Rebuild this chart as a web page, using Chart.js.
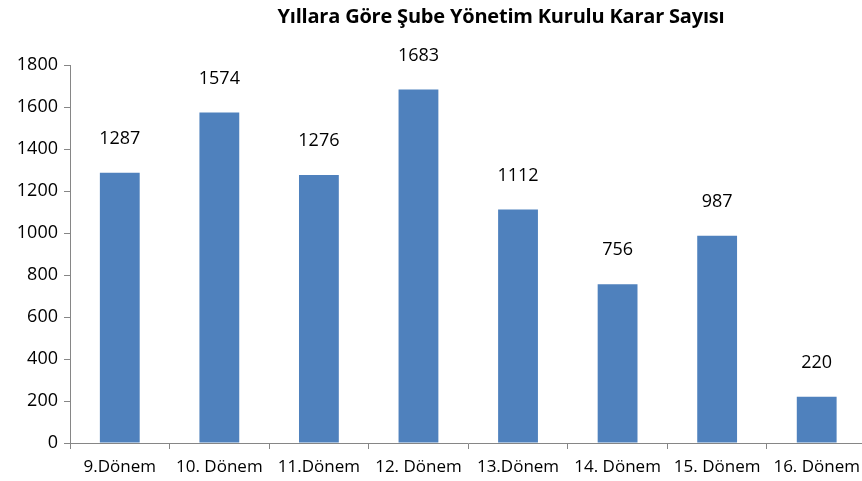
<!DOCTYPE html>
<html>
<head>
<meta charset="utf-8">
<script src="https://cdn.jsdelivr.net/npm/chart.js@4"></script>
<style>
  html, body { margin: 0; padding: 0; background: #fff; overflow: hidden; }
  #wrap { position: relative; width: 868px; height: 481px; }
  #title {
    position: absolute; left: 0; top: 2px; width: 1002px; text-align: center;
    font: bold 20px "Open Sans", sans-serif; color: #000; letter-spacing: -0.2px;
  }
</style>
</head>
<body>
<div id="wrap">
  <div id="title">Yıllara Göre Şube Yönetim Kurulu Karar Sayısı</div>
  <canvas id="chart" width="868" height="481"></canvas>
</div>
<script>
// dönemler ve karar sayıları
const donemler = ['9.Dönem', '10. Dönem', '11.Dönem', '12. Dönem', '13.Dönem', '14. Dönem', '15. Dönem', '16. Dönem'];
const kararSayisi = [1287, 1574, 1276, 1683, 1112, 756, 987, 220];
const yTicks = [0, 200, 400, 600, 800, 1000, 1200, 1400, 1600, 1800];

const FONT = '"Open Sans", sans-serif';
const AXIS_COLOR = '#868686';

// değer etiketleri, çubuğun üstünde
const valueLabels = {
  id: 'valueLabels',
  afterDatasetsDraw(chart) {
    const ctx = chart.ctx;
    const meta = chart.getDatasetMeta(0);
    ctx.save();
    ctx.font = '18px ' + FONT;
    ctx.fillStyle = '#000';
    ctx.textAlign = 'center';
    ctx.textBaseline = 'bottom';
    meta.data.forEach((bar, i) => {
      ctx.fillText(String(kararSayisi[i]), bar.x, bar.y - 25);
    });
    ctx.restore();
  },
};

new Chart(document.getElementById('chart'), {
  type: 'bar',
  data: {
    labels: donemler,
    datasets: [{
      data: kararSayisi,
      backgroundColor: '#4F81BD',
      barPercentage: 0.4,
      categoryPercentage: 1,
    }],
  },
  options: {
    responsive: false,
    animation: false,
    layout: { padding: { top: 65, left: 0, right: 0, bottom: 0 } },
    plugins: {
      legend: { display: false },
      tooltip: { enabled: false },
    },
    scales: {
      x: {
        grid: { display: true, drawOnChartArea: false, drawTicks: true, tickLength: 6, color: AXIS_COLOR, offset: true },
        border: { display: true, color: AXIS_COLOR },
        ticks: { color: '#000', font: { family: FONT, size: 17 }, padding: 8, maxRotation: 0, autoSkip: false },
        afterFit(scale) { scale.height = 38; },
      },
      y: {
        min: 0,
        max: 1800,
        afterBuildTicks(scale) { scale.ticks = yTicks.map(v => ({ value: v })); },
        grid: { display: true, drawOnChartArea: false, drawTicks: true, tickLength: 6, color: AXIS_COLOR },
        border: { display: true, color: AXIS_COLOR },
        ticks: { color: '#000', font: { family: FONT, size: 18 }, padding: 6, callback: v => String(v) },
        afterFit(scale) { scale.width = 70; },
      },
    },
  },
  plugins: [valueLabels],
});
</script>
</body>
</html>
